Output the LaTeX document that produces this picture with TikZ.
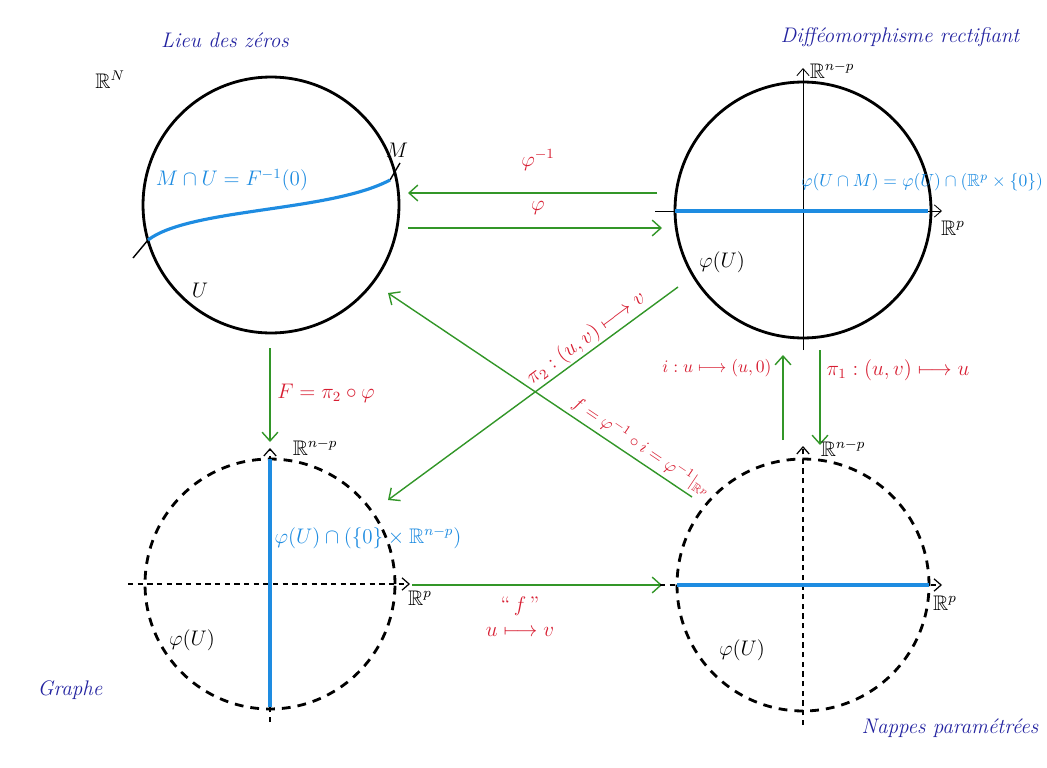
\documentclass[tikz,border=0pt]{standalone}
\usepackage{amsmath,amssymb}
\usetikzlibrary{arrows.meta}
\definecolor{lblue}{RGB}{30,140,225}
\definecolor{lred}{RGB}{215,30,50}
\definecolor{lgreen}{RGB}{50,150,40}
\definecolor{dblue}{RGB}{35,35,160}
\begin{document}
\begin{tikzpicture}[x=0.02cm,y=-0.02cm,
  disk/.style={draw, circle, line width=1.6pt, inner sep=0pt},
  ddisk/.style={disk, dash pattern=on 5pt off 4pt},
  map/.style={draw=lgreen, line width=0.8pt, -{Straight Barb[length=5pt,width=9pt]}},
  axis/.style={line width=0.5pt, -{Straight Barb[length=4pt,width=7pt]}},
  daxis/.style={axis, dash pattern=on 3pt off 2.5pt, line width=0.7pt},
  bline/.style={draw=lblue, line width=1.8pt},
  lab/.style={text=lred, font=\large},
  bl/.style={text=lblue, font=\large},
  blk/.style={font=\large},
  title/.style={text=dblue, font=\large\itshape}]
\useasboundingbox (0,0) rectangle (1047,767);

% circles
\node[disk, minimum size=5.12cm] (TL) at (271,205) {};
\node[disk, minimum size=5.12cm] (TR) at (803,210) {};
\node[ddisk, minimum size=5.0cm] (BL) at (270,584) {};
\node[ddisk, minimum size=5.04cm] (BR) at (803,585) {};

% titles
\node[title] (t1) at (225,40) {Lieu des z\'eros};
\node[title] (t2) at (900,37) {Diff\'eomorphisme rectifiant};
\node[title] (t3) at (70,690) {Graphe};
\node[title] (t4) at (950,728) {Nappes param\'etr\'ees};

% top-left
\node[blk] (RN) at (110,80) {$\mathbb{R}^N$};
\coordinate (m0) at (133,258);
\coordinate (m1) at (148,240);
\coordinate (m2) at (390,180);
\coordinate (m3) at (400,163);
\draw[line width=0.8pt] (m0) -- (m1);
\draw[line width=0.8pt] (m2) -- (m3);
\draw[bline] (m1) .. controls (190,208) and (330,212) .. (m2);
\node[blk] (Mlab) at (397,150) {$M$};
\node[bl] (Mlab2) at (232,180) {$M\cap U = F^{-1}(0)$};
\node[blk] (Ulab) at (200,290) {$U$};

% top-right
\coordinate (v0) at (803,350);
\coordinate (v1) at (803,68);
\coordinate (h0) at (655,211);
\coordinate (h1) at (942,211);
\draw[axis] (v0) -- (v1);
\draw[axis] (h0) -- (h1);
\coordinate (b0) at (675,211);
\coordinate (b1) at (928,211);
\draw[bline] (b0) -- (b1);
\node[blk] (Rnp1) at (832,70) {$\mathbb{R}^{n-p}$};
\node[blk] (Rp1) at (953,228) {$\mathbb{R}^{p}$};
\node[blk] (pU1) at (722,262) {$\varphi(U)$};
\node[text=lblue, font=\normalsize, anchor=east, inner sep=1pt] (lab1) at (1045,182) {$\varphi(U\cap M) = \varphi(U)\cap(\mathbb{R}^p\times\{0\})$};

% phi arrows
\coordinate (a0) at (657,193);
\coordinate (a1) at (408,193);
\coordinate (a2) at (408,228);
\coordinate (a3) at (662,228);
\draw[map] (a0) -- (a1);
\draw[map] (a2) -- (a3);
\node[lab] (phiinv) at (538,160) {$\varphi^{-1}$};
\node[lab] (phi) at (538,208) {$\varphi$};

% F arrow
\coordinate (f0) at (270,348);
\coordinate (f1) at (270,442);
\draw[map] (f0) -- (f1);
\node[lab] (Flab) at (326,393) {$F=\pi_2\circ\varphi$};

% diagonals
\coordinate (d0) at (678,287);
\coordinate (d1) at (388,500);
\draw[map] (d0) -- node[lab, sloped, above=0pt, inner sep=1pt, pos=0.29] {$\pi_2:(u,v)\longmapsto v$} (d1);
\coordinate (e0) at (692,497);
\coordinate (e1) at (388,293);
\draw[map] (e0) -- node[text=lred, font=\normalsize, sloped, above=1pt, inner sep=1pt, pos=0.19] {$f=\varphi^{-1}\circ i=\varphi^{-1}|_{\mathbb{R}^p}$} (e1);

% right vertical arrows
\coordinate (i0) at (783,440);
\coordinate (i1) at (783,355);
\coordinate (p0) at (820,350);
\coordinate (p1) at (820,445);
\draw[map] (i0) -- (i1);
\draw[map] (p0) -- (p1);
\node[text=lred, font=\normalsize] (ilab) at (717,368) {$i:u\longmapsto(u,0)$};
\node[lab] (p1lab) at (898,370) {$\pi_1:(u,v)\longmapsto u$};

% bottom-left
\coordinate (bv0) at (270,722);
\coordinate (bv1) at (270,448);
\coordinate (bh0) at (128,584);
\coordinate (bh1) at (410,584);
\draw[daxis] (bv0) -- (bv1);
\draw[daxis] (bh0) -- (bh1);
\coordinate (bb0) at (270,459);
\coordinate (bb1) at (270,707);
\draw[bline] (bb0) -- (bb1);
\node[blk] (Rnp2) at (315,447) {$\mathbb{R}^{n-p}$};
\node[blk] (Rp2) at (420,598) {$\mathbb{R}^{p}$};
\node[blk] (pU2) at (192,640) {$\varphi(U)$};
\node[bl] (lab2) at (368,538) {$\varphi(U)\cap(\{0\}\times\mathbb{R}^{n-p})$};

% bottom arrow
\coordinate (g0) at (412,585);
\coordinate (g1) at (662,585);
\draw[map] (g0) -- (g1);
\node[lab] (flab) at (520,606) {``\,$f$\,''};
\node[lab] (uv) at (520,632) {$u\longmapsto v$};

% bottom-right
\coordinate (cv0) at (803,725);
\coordinate (cv1) at (803,446);
\coordinate (ch0) at (660,585);
\coordinate (ch1) at (942,585);
\draw[daxis] (cv0) -- (cv1);
\draw[daxis] (ch0) -- (ch1);
\coordinate (cb0) at (677,585);
\coordinate (cb1) at (929,585);
\draw[bline] (cb0) -- (cb1);
\node[blk] (Rnp3) at (843,448) {$\mathbb{R}^{n-p}$};
\node[blk] (Rp3) at (945,603) {$\mathbb{R}^{p}$};
\node[blk] (pU3) at (742,650) {$\varphi(U)$};
\end{tikzpicture}
\end{document}
